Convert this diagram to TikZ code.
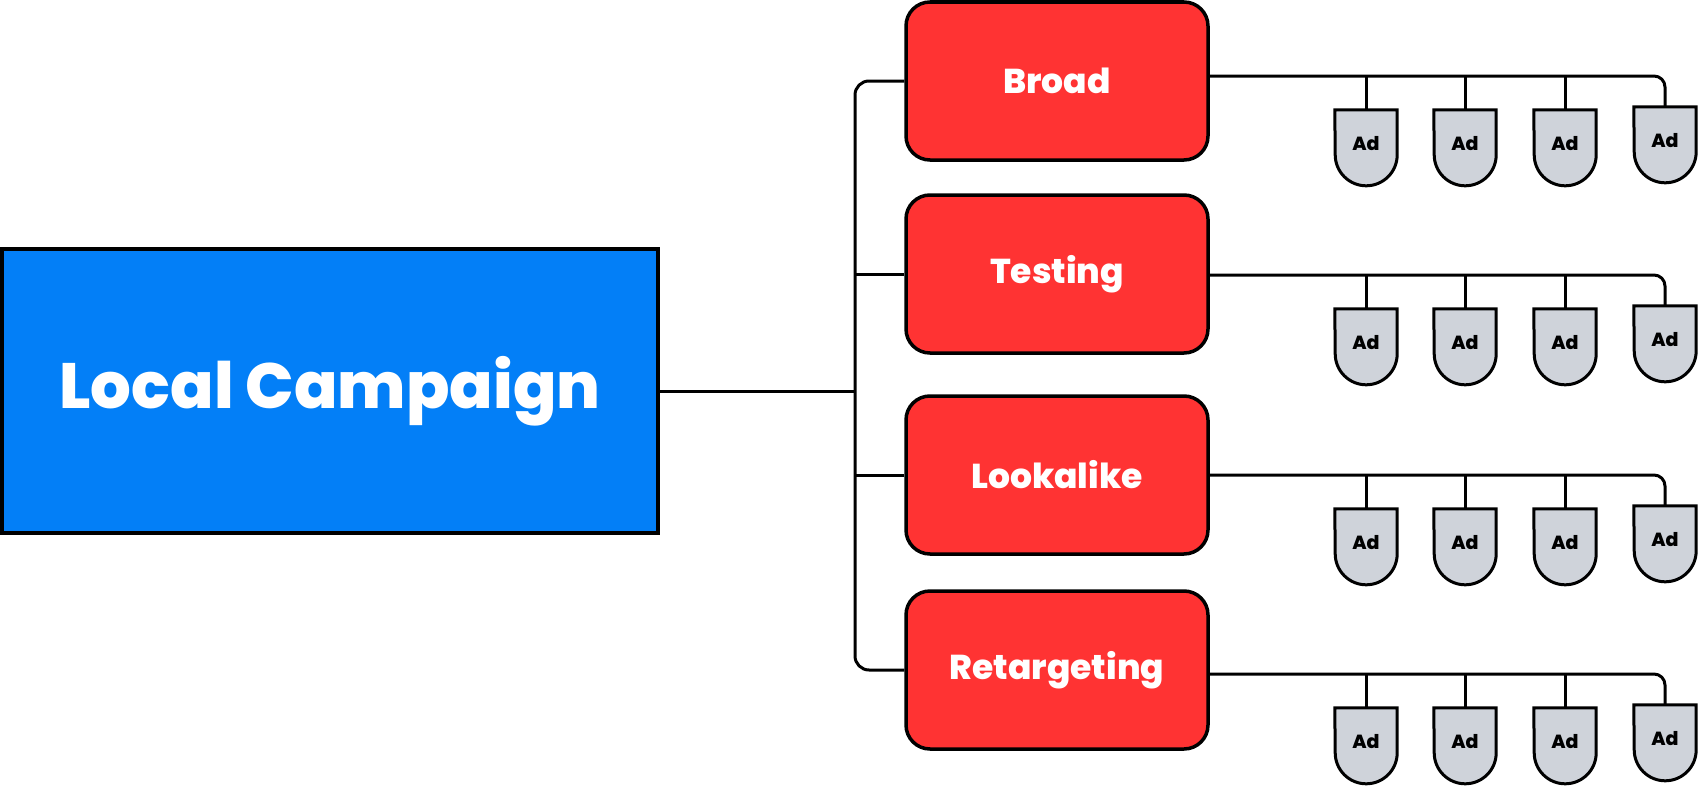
\documentclass[tikz,border=0pt]{standalone}
\usepackage{fontspec}
\setmainfont{Poppins}[BoldFont={Poppins ExtraBold}]
\usetikzlibrary{positioning,backgrounds}
\definecolor{campblue}{HTML}{037FF7}
\definecolor{setred}{HTML}{FF3333}
\definecolor{adgray}{HTML}{CFD3DA}
\tikzset{
    campaign/.style={draw, line width=3.5pt, fill=campblue, text=white, minimum width=656pt, minimum height=284pt, font=\fontsize{64}{66}\selectfont\bfseries},
    adset/.style={draw, line width=3.5pt, rounded corners=24pt, fill=setred, text=white, minimum width=302pt, minimum height=158pt, font=\fontsize{34.5}{36}\selectfont\bfseries},
    ad/.style={minimum width=62pt, minimum height=76pt, inner sep=0pt, font=\fontsize{19}{20}\selectfont\bfseries},
    adshape/.style={draw, line width=3pt, fill=adgray},
    link/.style={line width=3pt},
}
\begin{document}
\begin{tikzpicture}[x=1pt,y=1pt]
    \useasboundingbox (0,0) rectangle (1698,-787);
    %draw campaign
    \node[campaign] (campaign) at (330,-391) {\raisebox{-4pt}{Local Campaign}};
    \coordinate (trunk) at (855,-391);
    %draw ad sets and their ads
    \foreach \set/\txt/\y/\l in {broad/Broad/81/76, testing/Testing/274/275, lookalike/Lookalike/475/475, retargeting/Retargeting/670/674}
        {%
            \node[adset] (\set) at (1057,-\y) {\txt};
            \foreach \i/\x/\dy in {1/1366/0, 2/1465/0, 3/1565/0, 4/1665/3}
                {%
                    \node[ad] (\set\i) at (\x,{-\l-72+\dy}) {\raisebox{9pt}{Ad}};
                    \begin{scope}[on background layer]
                        \draw[adshape] (\set\i.north west) -- (\set\i.north east) -- ++(0,-45) arc (0:-180:31) -- cycle;
                    \end{scope}
                }
            %draw lines to ads
            \draw[link, rounded corners=11pt] ([yshift={(\y-\l)*1pt}]\set.east) -| (\set4.north);
            \foreach \i in {1,2,3}
                {%
                    \draw[link] (\set\i.north) -- ++(0,34);
                }
        }
    %draw lines to ad sets
    \draw[link] (campaign.east) -- (trunk);
    \draw[link, rounded corners=14pt] (broad.west) -| (trunk |- retargeting.west) -- (retargeting.west);
    \draw[link] (testing.west) -- (testing.west -| trunk);
    \draw[link] (lookalike.west) -- (lookalike.west -| trunk);
\end{tikzpicture}
\end{document}
